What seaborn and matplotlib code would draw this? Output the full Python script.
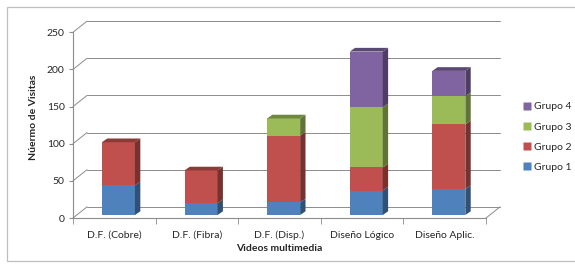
"""Visitas por video multimedia, barras apiladas estilo 3D"""

import matplotlib

matplotlib.use("Agg")
import matplotlib.pyplot as plt
import numpy as np
import pandas as pd
import seaborn as sb
from matplotlib.patches import Polygon, Rectangle
from matplotlib.lines import Line2D

# Data
videos = ["D.F. (Cobre)", "D.F. (Fibra)", "D.F. (Disp.)", "Diseño Lógico", "Diseño Aplic."]
grupo1 = [40, 16, 17, 33, 35]
grupo2 = [58, 44, 90, 31, 87]
grupo3 = [0, 0, 23, 81, 38]
grupo4 = [0, 0, 0, 75, 34]
grupos = ["Grupo 1", "Grupo 2", "Grupo 3", "Grupo 4"]
colores = ["#4F81BD", "#C0504D", "#9BBB59", "#8064A2"]
yticks = [0, 50, 100, 150, 200, 250]

series = np.array([grupo1, grupo2, grupo3, grupo4], dtype=float)
cum = series.cumsum(axis=0)

# 3D look (data units)
wall_dx, wall_dy = 0.17, 15
bar_dx, bar_dy = 0.065, 5
bar_x0, bar_z0 = 0.05, 4
bar_w = 0.4


def shade(c, f):
    r, g, b = matplotlib.colors.to_rgb(c)
    return (r * f, g * f, b * f)


sb.set_style("white")
plt.rcParams["font.family"] = ["Lato", "DejaVu Sans"]

fig = plt.figure(figsize=(5.75, 2.66), dpi=100)
W, H = 575, 266
ax = fig.add_axes([73 / W, 48 / H, 413 / W, 200.6 / H])
ax.set_xlim(-0.5, 4.5)
ax.set_ylim(0, 270)

# Chart border
fig.patches.append(Rectangle((7 / W, 5 / H), 570 / W, 254 / H, transform=fig.transFigure,
                             fill=False, edgecolor="#bfbfbf", lw=0.9))

# Back wall gridlines and diagonals
grid_c = "#8c8c8c"
for v in yticks:
    ax.plot([-0.5 + wall_dx, 4.5 + wall_dx], [v + wall_dy, v + wall_dy], color=grid_c, lw=0.7, clip_on=False, zorder=0)
    ax.plot([-0.5, -0.5 + wall_dx], [v, v + wall_dy], color=grid_c, lw=0.7, clip_on=False, zorder=0)
ax.plot([4.5, 4.5 + wall_dx], [0, wall_dy], color=grid_c, lw=0.7, clip_on=False, zorder=0)

# Stacked bars: draw cumulative totals from top layer down
df = pd.DataFrame({"video": videos})
for i in range(3, -1, -1):
    df["cum"] = cum[i]
    sb.barplot(data=df, x="video", y="cum", order=videos, color=colores[i], width=bar_w,
               saturation=1, ax=ax, zorder=3, linewidth=0)
for p in ax.patches:
    p.set_x(p.get_x() + bar_x0)
    p.set_y(p.get_y() + bar_z0)

# Side and top faces
for j in range(len(videos)):
    xr = j + bar_x0 + bar_w / 2
    xl = j + bar_x0 - bar_w / 2
    top_i = None
    for i in range(4):
        if series[i, j] <= 0:
            continue
        b = (cum[i, j] - series[i, j]) + bar_z0
        t = cum[i, j] + bar_z0
        ax.add_patch(Polygon([(xr, b), (xr + bar_dx, b + bar_dy), (xr + bar_dx, t + bar_dy), (xr, t)],
                             closed=True, facecolor=shade(colores[i], 0.62), edgecolor="none", zorder=3))
        top_i = i
    t = cum[top_i, j] + bar_z0
    ax.add_patch(Polygon([(xl, t), (xl + bar_dx, t + bar_dy), (xr + bar_dx, t + bar_dy), (xr, t)],
                         closed=True, facecolor=shade(colores[top_i], 0.72), edgecolor="none", zorder=3))

# Axes styling
for s in ["top", "right"]:
    ax.spines[s].set_visible(False)
for s in ["left", "bottom"]:
    ax.spines[s].set_color(grid_c)
    ax.spines[s].set_linewidth(0.8)
ax.spines["left"].set_bounds(0, 250)
ax.set_yticks(yticks)
ax.set_xticks(range(len(videos)))
ax.set_xticklabels(videos)
ax.set_xticks(np.arange(-0.5, 5, 1), minor=True)
ax.tick_params(axis="y", length=3, color=grid_c, labelsize=7.5, pad=3, left=True)
ax.tick_params(axis="x", which="major", length=0, labelsize=7.5, pad=9)
ax.tick_params(axis="x", which="minor", length=4, color=grid_c, bottom=True)
ax.set_xlabel("Videos multimedia", fontsize=7.5, fontweight="bold", labelpad=3)
ax.set_ylabel("Núermo de Visitas", fontsize=7.5, fontweight="bold", labelpad=6)

# Legend
handles = [Line2D([], [], marker="s", linestyle="none", markersize=5.5, markerfacecolor=colores[i],
                  markeredgecolor="none", label=grupos[i]) for i in range(3, -1, -1)]
fig.legend(handles=handles, loc="center left", bbox_to_anchor=(518 / W, 1 - 137 / H), frameon=False,
           fontsize=7.5, handletextpad=0.1, labelspacing=1.05, handlelength=1.0, borderaxespad=0)

fig.savefig("out.png", dpi=100)
